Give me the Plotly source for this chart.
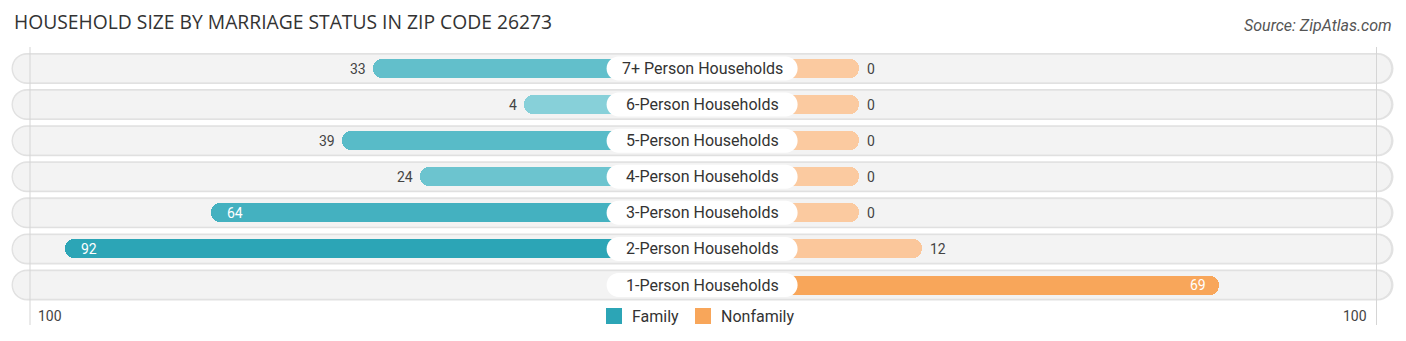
import plotly.graph_objects as go

# ---- data ----
categories = ["7+ Person Households", "6-Person Households", "5-Person Households",
              "4-Person Households", "3-Person Households", "2-Person Households",
              "1-Person Households"]
family = [33, 4, 39, 24, 64, 92, None]
nonfamily = [0, 0, 0, 0, 0, 12, 69]
axis_max_label = "100"

# ---- styling ----
family_colors = ["#62bfcb", "#87d0d9", "#58bbc8", "#6cc4cf", "#44b1c0", "#2ca5b6", "#8fd3dc"]
nonfamily_colors = ["#fbcaa0", "#fbcaa0", "#fbcaa0", "#fbcaa0", "#fbcaa0", "#fbc79b", "#f8a65a"]
W, H = 1406, 341
CX = 702.1          # pixel of center
SCALE = 5.217       # pixels per unit
ROW0 = 285.0        # pixel y of bottom row
ROWSTEP = 36.08
OFF = 30.1          # units from center to zero of each side

def px2x(p):
    return (p - CX) / SCALE

def px2y(p):
    return (ROW0 - p) / ROWSTEP

def pill_path(w, h, dx=0.0):
    # rounded pill, pixel units, centered at anchor (+dx)
    r = h / 2
    k = 0.5523 * r
    x0, x1 = dx - w / 2 + r, dx + w / 2 - r
    return (f"M {x0},{-r} L {x1},{-r} "
            f"C {x1 + k},{-r} {x1 + r},{-k} {x1 + r},0 "
            f"C {x1 + r},{k} {x1 + k},{r} {x1},{r} "
            f"L {x0},{r} "
            f"C {x0 - k},{r} {x0 - r},{k} {x0 - r},0 "
            f"C {x0 - r},{-k} {x0 - k},{-r} {x0},{-r} Z")

n = len(categories)
ys = [n - 1 - i for i in range(n)]  # top row highest

fig = go.Figure()

# family bars
fig.add_trace(go.Bar(
    y=ys, x=[None if v is None else -(OFF + v) for v in family], base=0,
    orientation="h", width=19 / ROWSTEP,
    marker=dict(color=family_colors, line=dict(width=0), cornerradius="50%"),
    name="Family", showlegend=False, hoverinfo="skip"))
# nonfamily bars
fig.add_trace(go.Bar(
    y=ys, x=[None if v is None else (OFF + v) for v in nonfamily], base=0,
    orientation="h", width=19 / ROWSTEP,
    marker=dict(color=nonfamily_colors, line=dict(width=0), cornerradius="50%"),
    name="Nonfamily", showlegend=False, hoverinfo="skip"))

shapes = []
annotations = []
bg_center = px2x(702)
for i, cat in enumerate(categories):
    y = ys[i]
    # background row pill (shadow + body)
    shapes.append(dict(type="path", xsizemode="pixel", ysizemode="pixel",
                       xanchor=bg_center, yanchor=y, path=pill_path(1382, 31, 0.5),
                       fillcolor="#e2e2e2", line=dict(width=0), layer="below"))
    shapes.append(dict(type="path", xsizemode="pixel", ysizemode="pixel",
                       xanchor=bg_center, yanchor=y, path=pill_path(1379, 28.5),
                       fillcolor="#f3f3f3", line=dict(color="#dcdcdc", width=0.6),
                       layer="below"))
    # label pill
    shapes.append(dict(type="path", xsizemode="pixel", ysizemode="pixel",
                       xanchor=0, yanchor=y, path=pill_path(191, 24),
                       fillcolor="#ffffff", line=dict(width=0), layer="above"))
    annotations.append(dict(x=0, y=y, text=cat, showarrow=False,
                            font=dict(family="Roboto", size=16, color="#333333"),
                            xanchor="center", yanchor="middle"))
    fv = family[i]
    if fv is not None:
        if fv >= 50:
            annotations.append(dict(x=-(OFF + fv), y=y, text=str(fv), showarrow=False,
                                    xanchor="left", yanchor="middle", xshift=14,
                                    font=dict(family="Roboto", size=14, color="#ffffff")))
        else:
            annotations.append(dict(x=-(OFF + fv), y=y, text=str(fv), showarrow=False,
                                    xanchor="right", yanchor="middle", xshift=-5,
                                    font=dict(family="Roboto", size=14, color="#444444")))
    nv = nonfamily[i]
    if nv is not None:
        if nv >= 50:
            annotations.append(dict(x=OFF + nv, y=y, text=str(nv), showarrow=False,
                                    xanchor="right", yanchor="middle", xshift=-11,
                                    font=dict(family="Roboto", size=14, color="#ffffff")))
        else:
            annotations.append(dict(x=OFF + nv, y=y, text=str(nv), showarrow=False,
                                    xanchor="left", yanchor="middle", xshift=6,
                                    font=dict(family="Roboto", size=14, color="#444444")))

# axis labels
annotations.append(dict(x=px2x(36), y=px2y(316), text=axis_max_label, showarrow=False,
                        xanchor="left", yanchor="middle",
                        font=dict(family="Roboto", size=14, color="#444444")))
annotations.append(dict(x=px2x(1369), y=px2y(316), text=axis_max_label, showarrow=False,
                        xanchor="right", yanchor="middle",
                        font=dict(family="Roboto", size=14, color="#444444")))

# title & source
annotations.append(dict(xref="paper", yref="paper", x=12 / W, y=1 - 22 / H,
                        text="HOUSEHOLD SIZE BY MARRIAGE STATUS IN ZIP CODE 26273",
                        showarrow=False, xanchor="left", yanchor="middle",
                        font=dict(family="Open Sans", size=19.3, color="#333333")))
annotations.append(dict(xref="paper", yref="paper", x=1394 / W, y=1 - 25 / H,
                        text="<i>Source: ZipAtlas.com</i>",
                        showarrow=False, xanchor="right", yanchor="middle",
                        font=dict(family="Roboto", size=16, color="#555555")))

# legend (manual)
leg = [("Family", "#2ca5b6", 606, 630), ("Nonfamily", "#f8a65a", 695, 719)]
for name, col, sx, tx in leg:
    shapes.append(dict(type="rect", xref="paper", yref="paper",
                       x0=sx / W, x1=(sx + 16) / W, y0=1 - 324 / H, y1=1 - 308 / H,
                       fillcolor=col, line=dict(width=0), layer="above"))
    annotations.append(dict(xref="paper", yref="paper", x=tx / W, y=1 - 316 / H,
                            text=name, showarrow=False, xanchor="left", yanchor="middle",
                            font=dict(family="Roboto", size=16, color="#333333")))

# vertical guide lines
for p in (30, 1376.5):
    shapes.append(dict(type="line", x0=px2x(p), x1=px2x(p), y0=px2y(47), y1=px2y(325),
                       line=dict(color="#d5d5d5", width=1), layer="below"))

fig.update_layout(
    width=W, height=H, margin=dict(l=0, r=0, t=0, b=0),
    paper_bgcolor="#ffffff", plot_bgcolor="rgba(0,0,0,0)",
    barmode="overlay", bargap=0,
    xaxis=dict(range=[px2x(0), px2x(W)], visible=False, fixedrange=True),
    yaxis=dict(range=[px2y(H), px2y(0)], visible=False, fixedrange=True),
    annotations=annotations, shapes=shapes, showlegend=False,
)

fig.write_html("out.html")
